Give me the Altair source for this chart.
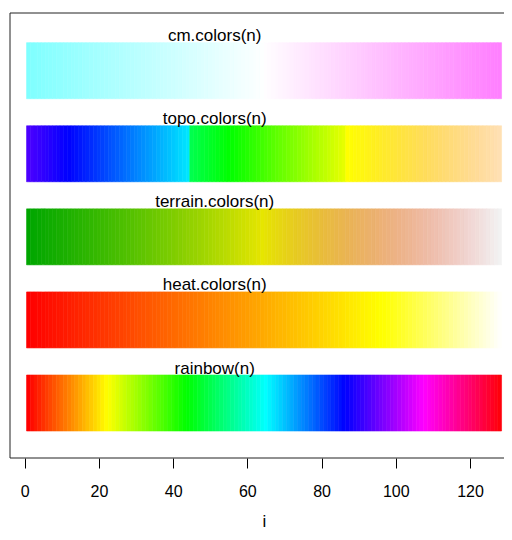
import colorsys
import altair as alt
import pandas as pd

# ---- data -------------------------------------------------------------
n = 128
palettes = ["cm.colors(n)", "topo.colors(n)", "terrain.colors(n)",
            "heat.colors(n)", "rainbow(n)"]
rows = [5, 4, 3, 2, 1]
x_ticks = [0, 20, 40, 60, 80, 100, 120]
label_x = 51.2
half_h = 0.337


# ---- R palette definitions (grDevices) --------------------------------
def seq(a, b, length):
    if length == 1:
        return [a]
    return [a + (b - a) * k / (length - 1) for k in range(length)]


def hsv(h, s=1.0, v=1.0):
    r, g, b = colorsys.hsv_to_rgb(h, s, v)
    return "#%02X%02X%02X" % tuple(int(255 * c + 0.5) for c in (r, g, b))


def rainbow(m, start=0.0, end=None):
    if end is None:
        end = max(1, m - 1) / m
    return [hsv(h) for h in seq(start, end, m)]


def heat_colors(m):
    j = m // 4
    i = m - j
    return rainbow(i, 0, 1 / 6) + [hsv(1 / 6, s) for s in seq(1 - 1 / (2 * j), 1 / (2 * j), j)]


def terrain_colors(m):
    k = m // 2
    h = [4 / 12, 2 / 12, 0 / 12]
    s = [1, 1, 0]
    v = [0.65, 0.9, 0.95]
    part1 = [hsv(a, b, c) for a, b, c in zip(seq(h[0], h[1], k), seq(s[0], s[1], k), seq(v[0], v[1], k))]
    L = m - k + 1
    part2 = [hsv(a, b, c) for a, b, c in zip(seq(h[1], h[2], L)[1:], seq(s[1], s[2], L)[1:], seq(v[1], v[2], L)[1:])]
    return part1 + part2


def topo_colors(m):
    j = m // 3
    k = m // 3
    i = m - j - k
    return ([hsv(h) for h in seq(43 / 60, 31 / 60, i)]
            + [hsv(h) for h in seq(23 / 60, 11 / 60, j)]
            + [hsv(h, s) for h, s in zip(seq(10 / 60, 6 / 60, k), seq(1, 0.3, k))])


def cm_colors(m):
    even = 1 if m % 2 == 0 else 0
    k = m // 2
    l1 = k + 1 - even
    l2 = m - k + even
    return ([hsv(6 / 12, s) for s in seq(0.5, 0.5 / k if even else 0, l1)]
            + [hsv(10 / 12, s) for s in seq(0, 0.5, l2)[1:]])


pal_cols = [cm_colors(n), topo_colors(n), terrain_colors(n), heat_colors(n), rainbow(n)]

recs = []
for name, r, cols in zip(palettes, rows, pal_cols):
    for i in range(1, n + 1):
        recs.append({"palette": name, "i": i, "x1": i - 0.5, "x2": i + 0.5,
                     "y1": r - half_h, "y2": r + half_h, "color": cols[i - 1]})
df = pd.DataFrame(recs)
lab = pd.DataFrame({"palette": palettes, "lx": [label_x] * len(rows),
                    "ly": [r + half_h for r in rows]})

# ---- chart ------------------------------------------------------------
W, H = 494, 445
FONT = "Liberation Sans"
xscale = alt.Scale(domain=[-3.961, 129.16], nice=False, zero=False)
yscale = alt.Scale(domain=[0.338, 5.6945], nice=False, zero=False)

rects = alt.Chart(df).mark_rect(strokeWidth=0.6).encode(
    x=alt.X("x1:Q", scale=xscale, title="i",
            axis=alt.Axis(values=x_ticks, tickSize=10, tickColor="black", tickWidth=1,
                          domain=False, grid=False, labelFontSize=16, labelFont=FONT,
                          labelColor="black", labelBaseline="alphabetic", labelPadding=28,
                          titleFontSize=17, titleFont=FONT, titleFontWeight="normal",
                          titleColor="black", titleX=254, titleY=68,
                          titleBaseline="alphabetic", titleAlign="center")),
    x2="x2:Q",
    y=alt.Y("y1:Q", scale=yscale, axis=None),
    y2="y2:Q",
    color=alt.Color("color:N", scale=None),
    stroke=alt.Stroke("color:N", scale=None),
)

labels = alt.Chart(lab).mark_text(fontSize=17, font=FONT, baseline="alphabetic",
                                  dy=-1.5, color="black", align="center").encode(
    x=alt.X("lx:Q", scale=xscale),
    y=alt.Y("ly:Q", scale=yscale),
    text="palette:N",
)

one = pd.DataFrame({"a": [0]})
frame_left = alt.Chart(one).mark_rule(color="#222", strokeWidth=1).encode(
    x=alt.value(0), y=alt.value(0), y2=alt.value(H))
frame_top = alt.Chart(one).mark_rule(color="#222", strokeWidth=1).encode(
    x=alt.value(0), x2=alt.value(W), y=alt.value(0))
frame_bottom = alt.Chart(one).mark_rule(color="#222", strokeWidth=1).encode(
    x=alt.value(0), x2=alt.value(W), y=alt.value(H))

chart = alt.layer(rects, labels, frame_left, frame_top, frame_bottom).properties(
    width=W, height=H, autosize="none",
    padding={"left": 2, "top": 5, "right": 0, "bottom": 74},
    background="white",
).configure_view(stroke=None)

chart.save("out.html", embed_options={"renderer": "svg", "actions": False})
